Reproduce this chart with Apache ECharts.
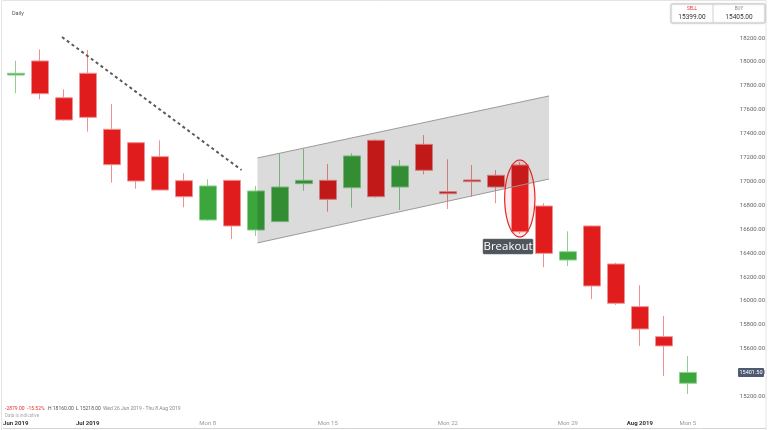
<!DOCTYPE html>
<html><head><meta charset="utf-8">
<script src="https://cdn.jsdelivr.net/npm/echarts@6/dist/echarts.min.js"></script>
<style>html,body{margin:0;padding:0;background:#fff}#c{width:768px;height:430px}</style>
</head><body><div id="c"></div>
<script>
// ---- data ----
const dates = ['Wed 26 Jun','Thu 27 Jun','Fri 28 Jun','Mon 1 Jul','Tue 2 Jul','Wed 3 Jul','Thu 4 Jul','Fri 5 Jul',
  'Mon 8 Jul','Tue 9 Jul','Wed 10 Jul','Thu 11 Jul','Fri 12 Jul','Mon 15 Jul','Tue 16 Jul','Wed 17 Jul','Thu 18 Jul','Fri 19 Jul',
  'Mon 22 Jul','Tue 23 Jul','Wed 24 Jul','Thu 25 Jul','Fri 26 Jul','Mon 29 Jul','Tue 30 Jul','Wed 31 Jul','Thu 1 Aug','Fri 2 Aug','Mon 5 Aug'];
const tickLabels = ['Jun 2019','','','Jul 2019','','','','',
  'Mon 8','','','','','Mon 15','','','','',
  'Mon 22','','','','','Mon 29','','','Aug 2019','','Mon 5'];
const openV  = [17890,18008,17700,17905,17436,17324,17207,17006,16677,17009,16593,16663,16981,17009,16947,17344,16953,17310,16914,17012,17051,17137,16794,16342,16627,16309,15952,15701,15311];
const closeV = [17905,17734,17514,17536,17140,17003,16928,16872,16962,16627,16920,16953,17009,16850,17213,16872,17129,17093,16897,16998,16953,16579,16398,16412,16125,15980,15765,15623,15401.5];
const lowV   = [17738,17687,17508,17416,16989,16939,16925,16783,16670,16518,16543,16660,16922,16746,16780,16865,16761,17059,16769,16872,16817,16560,16281,16292,16016,15966,15623,15372,15221];
const highV  = [18010,18105,17771,18100,17648,17330,17344,17068,17018,17012,16962,17235,17274,17146,17235,17350,17179,17388,17185,17137,17095,17162,16817,16582,16630,16320,16131,15874,15539];
const trendLine = [[1.93,18208],[9.41,17095]];
const channelTop = [[10.07,17196],[22.22,17715]];
const channelBottom = [[10.07,16485],[22.22,17020]];
const ellipseCenter = [21,16857];
const ellipseHalf = [0.63,322];
const breakoutPos = [20.51,16455];
const breakoutText = 'Breakout';
const sellPrice = '15399.00', buyPrice = '15405.00';
const infoItems = ['-2879.00','-15.52%','H 18160.00','L 15218.00','Wed 26 Jun 2019 - Thu 8 Aug 2019'];

const candles = dates.map((d,i)=>[openV[i],closeV[i],lowV[i],highV[i]]);
const lastClose = closeV[closeV.length-1];

const chart = echarts.init(document.getElementById('c'), null, {renderer:'canvas'});
const FONT = 'Roboto';

chart.setOption({
  animation:false,
  backgroundColor:'#fff',
  grid:{left:3.7, right:67, top:14.1, bottom:9.6, containLabel:false},
  xAxis:[{
    type:'category', data:dates, boundaryGap:true, position:'bottom', offset:7.6,
    axisLine:{show:true, lineStyle:{color:'#d4d4d4', width:1}},
    axisTick:{show:false}, splitLine:{show:false},
    axisLabel:{inside:true, interval:0, margin:2, fontFamily:FONT,
      formatter:(v,i)=>{const t=tickLabels[i]; if(!t) return ''; return /20\d\d/.test(t)?'{m|'+t+'}':'{d|'+t+'}';},
      rich:{m:{fontSize:6,color:'#333',fontWeight:'bold',fontFamily:FONT}, d:{fontSize:6,color:'#999',fontFamily:FONT}}}
  },{
    type:'value', min:-0.5, max:28.5, show:false
  }],
  yAxis:{type:'value', position:'right', min:15000, max:18400, interval:200, scale:true,
    axisLine:{show:false}, axisTick:{show:false}, splitLine:{show:false},
    axisLabel:{margin:40, color:'#666', fontSize:6, fontFamily:FONT, showMinLabel:false, showMaxLabel:false,
      formatter:v=>v.toFixed(2)}},
  graphic:[
    {type:'rect', shape:{x:1.5,y:0.5,width:764.5,height:430}, style:{fill:'none', stroke:'#e4e4e4'}, silent:true},
    {type:'line', shape:{x1:701,y1:428.5,x2:766,y2:428.5}, style:{stroke:'#d4d4d4'}, silent:true},
    {type:'text', x:12, y:14, style:{text:'Daily', fill:'#555', fontSize:5.5, fontFamily:FONT, verticalAlign:'middle'}},
    {type:'rect', shape:{x:671,y:4,width:94,height:19,r:1}, style:{fill:'#fff', stroke:'#c8c8c8', shadowBlur:2, shadowColor:'rgba(0,0,0,0.15)'}},
    {type:'line', shape:{x1:713,y1:4,x2:713,y2:23}, style:{stroke:'#d0d0d0'}},
    {type:'text', x:692, y:9, style:{text:'SELL', fill:'#e03030', fontSize:4.5, fontFamily:FONT, align:'center', verticalAlign:'middle'}},
    {type:'text', x:692, y:17, style:{text:sellPrice, fill:'#333', fontSize:6.5, fontFamily:FONT, align:'center', verticalAlign:'middle'}},
    {type:'text', x:739, y:9, style:{text:'BUY', fill:'#888', fontSize:4.5, fontFamily:FONT, align:'center', verticalAlign:'middle'}},
    {type:'text', x:739, y:17, style:{text:buyPrice, fill:'#333', fontSize:6.5, fontFamily:FONT, align:'center', verticalAlign:'middle'}},
    {type:'text', x:5, y:409, style:{text:infoItems[0], fill:'#e03030', fontSize:5, fontFamily:FONT, verticalAlign:'middle'}},
    {type:'text', x:27, y:409, style:{text:infoItems[1], fill:'#e03030', fontSize:5, fontFamily:FONT, verticalAlign:'middle'}},
    {type:'text', x:48, y:409, style:{text:infoItems[2], fill:'#555', fontSize:5, fontFamily:FONT, verticalAlign:'middle'}},
    {type:'text', x:76, y:409, style:{text:infoItems[3], fill:'#555', fontSize:5, fontFamily:FONT, verticalAlign:'middle'}},
    {type:'text', x:103, y:409, style:{text:infoItems[4], fill:'#888', fontSize:5, fontFamily:FONT, verticalAlign:'middle'}},
    {type:'text', x:5, y:416, style:{text:'Data is indicative', fill:'#aaa', fontSize:4.5, fontFamily:FONT, verticalAlign:'middle'}}
  ],
  series:[
    {type:'candlestick', data:candles, xAxisIndex:0, yAxisIndex:0, barWidth:17.5, z:2,
      itemStyle:{color:'#3ca53c', color0:'#e11c1c', borderColor:'#8fd08f', borderColor0:'#f09090', borderWidth:1}},
    {type:'line', xAxisIndex:1, yAxisIndex:0, data:trendLine, showSymbol:false, z:3,
      lineStyle:{color:'#5a5a5a', width:2, type:[3,3]}},
    {type:'custom', xAxisIndex:1, yAxisIndex:0, data:[channelTop[0]], z:4,
      renderItem:(params, api)=>{
        const t0=api.coord(channelTop[0]), t1=api.coord(channelTop[1]);
        const b0=api.coord(channelBottom[0]), b1=api.coord(channelBottom[1]);
        return {type:'group', children:[
          {type:'polygon', shape:{points:[t0,t1,b1,b0]}, style:{fill:'rgba(0,0,0,0.14)', stroke:'none'}},
          {type:'polyline', shape:{points:[t0,t1]}, style:{stroke:'#9a9a9a', lineWidth:1, fill:'none'}},
          {type:'polyline', shape:{points:[b0,b1]}, style:{stroke:'#9a9a9a', lineWidth:1, fill:'none'}}
        ]};
      }},
    {type:'custom', xAxisIndex:1, yAxisIndex:0, data:[ellipseCenter], z:5,
      renderItem:(params, api)=>{
        const c=api.coord(ellipseCenter);
        const rx=api.size([ellipseHalf[0],0])[0], ry=api.size([0,ellipseHalf[1]])[1];
        const pts=[];
        for(let k=0;k<72;k++){const a=k/72*Math.PI*2; pts.push([c[0]+rx*Math.cos(a), c[1]+ry*Math.sin(a)]);}
        return {type:'polygon', shape:{points:pts}, style:{fill:'rgba(255,60,60,0.1)', stroke:'#e02828', lineWidth:1.2}};
      }},
    {type:'custom', xAxisIndex:1, yAxisIndex:0, data:[breakoutPos], z:6,
      renderItem:(params, api)=>{
        const c=api.coord(breakoutPos);
        return {type:'group', children:[
          {type:'rect', shape:{x:c[0]-25, y:c[1]-7.5, width:50, height:15, r:1}, style:{fill:'#50555c', stroke:'#6a6f75', lineWidth:0.5}},
          {type:'text', style:{text:breakoutText, x:c[0], y:c[1]+0.5, align:'center', verticalAlign:'middle', fill:'#fff', fontSize:11.5, fontFamily:'Open Sans'}}
        ]};
      }},
    {type:'custom', xAxisIndex:1, yAxisIndex:0, data:[[28,lastClose]], z:7,
      renderItem:(params, api)=>{
        const y=api.coord([28,lastClose])[1];
        return {type:'group', children:[
          {type:'rect', shape:{x:738, y:y-4.5, width:26, height:9, r:1}, style:{fill:'#4d5a72'}},
          {type:'text', style:{text:lastClose.toFixed(2), x:751, y:y, align:'center', verticalAlign:'middle', fill:'#fff', fontSize:5.5, fontFamily:FONT}}
        ]};
      }}
  ]
});
</script>
</body></html>
